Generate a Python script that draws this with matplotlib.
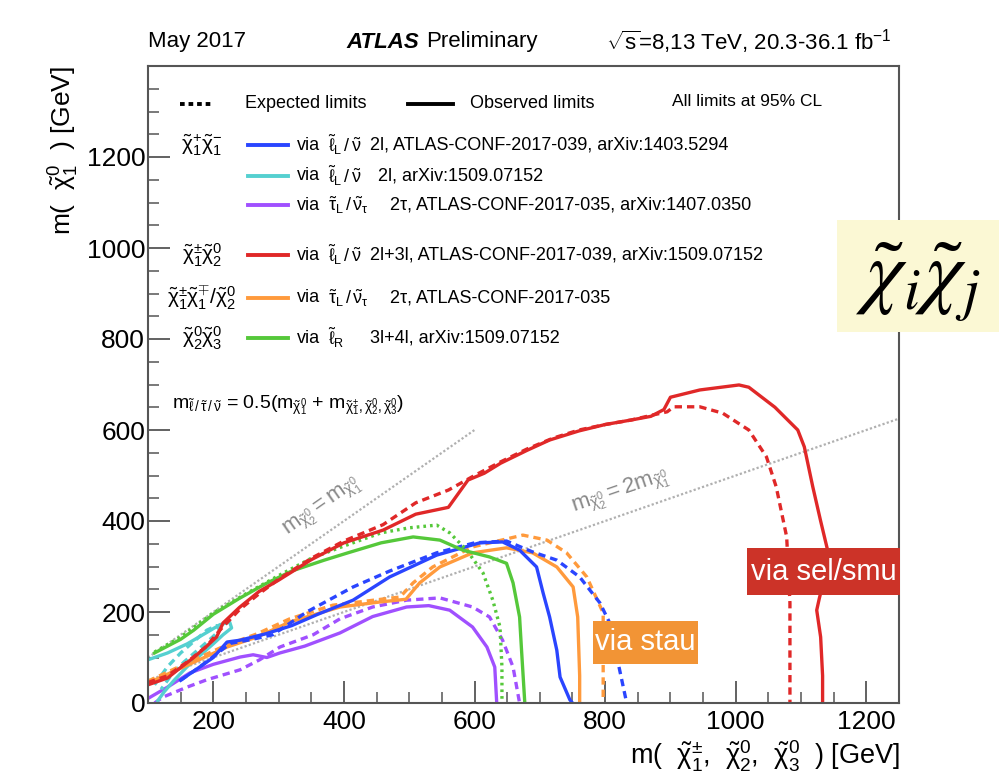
import numpy as np
import matplotlib
matplotlib.use('Agg')
import matplotlib.pyplot as plt
from matplotlib.lines import Line2D
from matplotlib.patches import Rectangle

plt.rcParams['font.family'] = ['Liberation Sans', 'DejaVu Sans']
plt.rcParams['mathtext.fontset'] = 'custom'
plt.rcParams['mathtext.rm'] = 'Liberation Sans'
plt.rcParams['mathtext.it'] = 'Liberation Sans'
plt.rcParams['mathtext.sf'] = 'Liberation Sans'

# ---- dados (GeV) ----
red_obs_x = [100, 130, 150, 170, 190, 205, 215, 240, 270, 300, 350, 400, 460, 510, 560, 590, 615, 640, 680, 715,
             760, 800, 840, 870, 890, 900, 945, 1005, 1020, 1060, 1095, 1105, 1118, 1130, 1140, 1135, 1128, 1124,
             1130, 1133, 1133]
red_obs_y = [40, 55, 78, 100, 125, 145, 176, 210, 245, 270, 315, 352, 380, 415, 430, 490, 505, 527, 555, 578,
             598, 612, 622, 630, 645, 672, 688, 699, 694, 650, 600, 563, 475, 400, 340, 270, 230, 204,
             145, 60, 0]
red_exp_x = [100, 130, 160, 190, 210, 240, 270, 300, 350, 400, 460, 510, 560, 600, 640, 680, 720, 760, 800, 840,
             870, 895, 905, 945, 980, 1020, 1047, 1062, 1078, 1083, 1083]
red_exp_y = [45, 60, 90, 125, 160, 205, 240, 272, 318, 356, 392, 440, 468, 500, 530, 558, 582, 600, 612, 622,
             632, 640, 651, 651, 637, 600, 541, 475, 365, 220, 0]

green_obs_x = [110, 150, 170, 200, 240, 280, 320, 370, 406, 457, 506, 547, 582, 623, 649, 659, 669, 672, 677]
green_obs_y = [110, 140, 160, 195, 230, 262, 290, 314, 330, 352, 365, 358, 336, 321, 307, 264, 189, 116, 0]
green_exp_x = [110, 150, 200, 250, 300, 350, 400, 457, 500, 542, 562, 588, 613, 628, 639, 642, 642]
green_exp_y = [112, 145, 198, 240, 280, 318, 345, 374, 385, 391, 374, 336, 286, 226, 167, 79, 0]

blue_obs_x = [150, 170, 200, 221, 241, 280, 320, 360, 414, 470, 542, 608, 643, 669, 695, 705, 715, 726, 731, 746, 750]
blue_obs_y = [50, 70, 100, 134, 138, 152, 170, 195, 226, 277, 325, 352, 354, 336, 299, 242, 189, 116, 57, 7, 0]
blue_exp_x = [150, 180, 226, 260, 291, 343, 414, 470, 542, 600, 649, 689, 726, 761, 792, 807, 818, 833]
blue_exp_y = [50, 80, 131, 140, 150, 200, 255, 290, 330, 352, 356, 332, 314, 277, 220, 176, 101, 0]

orange_obs_x = [100, 154, 221, 267, 317, 394, 455, 495, 516, 547, 597, 649, 689, 726, 751, 758, 761, 761]
orange_obs_y = [44, 79, 123, 145, 178, 211, 222, 228, 264, 299, 330, 341, 330, 299, 255, 189, 60, 0]
orange_exp_x = [100, 154, 221, 267, 317, 383, 440, 486, 506, 536, 597, 674, 711, 741, 772, 797, 797]
orange_exp_y = [48, 84, 128, 152, 185, 215, 225, 233, 264, 299, 343, 369, 358, 330, 277, 198, 0]

purple_obs_x = [100, 130, 164, 200, 241, 261, 282, 302, 340, 394, 444, 496, 530, 562, 597, 619, 631, 634]
purple_obs_y = [10, 35, 66, 85, 101, 106, 100, 110, 125, 154, 190, 211, 214, 204, 167, 123, 79, 0]
purple_exp_x = [110, 123, 160, 190, 241, 271, 302, 353, 394, 444, 496, 547, 597, 623, 643, 659, 669]
purple_exp_y = [0, 13, 35, 51, 73, 95, 123, 150, 185, 211, 226, 231, 211, 189, 138, 79, 0]

cyan_obs_x = [100, 130, 160, 190, 210, 225, 228, 215, 200, 180, 160, 140, 125, 115]
cyan_obs_y = [95, 110, 130, 155, 172, 178, 165, 150, 130, 105, 80, 50, 25, 5]
cyan_exp_x = [110, 130, 150, 170, 190, 205, 210, 195, 175, 155, 135, 120]
cyan_exp_y = [40, 80, 110, 135, 160, 170, 160, 140, 115, 90, 60, 30]

# cores
azul = '#2a45ff'
ciano = '#55d0d0'
roxo = '#a050ff'
vermelho = '#e02828'
laranja = '#ff9a3c'
verde = '#55c83a'
cinza = '#555555'

W, H = 999, 779
def fx(px):
    return px / W
def fy(py):
    return 1 - py / H

fig = plt.figure(figsize=(W / 100, H / 100), dpi=100)
ax = fig.add_axes([fx(148), fy(703), 751 / W, 637 / H])

# linhas cinzas
xa = np.array([100, 600])
ax.plot(xa, xa, color='#b0b0b0', lw=1.6, ls=(0, (1, 1)), zorder=1)
xb = np.array([100, 1250])
ax.plot(xb, xb / 2, color='#b0b0b0', lw=1.6, ls=(0, (1, 1)), zorder=1)
ax.text(368, 428, r'$m_{\tilde{\chi}_2^0} = m_{\tilde{\chi}_1^0}$', rotation=35, color='#888888',
        fontsize=16, ha='center', va='center')
ax.text(823, 464, r'$m_{\tilde{\chi}_2^0} = 2m_{\tilde{\chi}_1^0}$', rotation=19, color='#888888',
        fontsize=16, ha='center', va='center')

lw = 2.4
tracejado = (0, (2.2, 1.5))
pontilhado = (0, (0.8, 1.2))
curvas = [
    (purple_exp_x, purple_exp_y, roxo, tracejado),
    (purple_obs_x, purple_obs_y, roxo, '-'),
    (cyan_exp_x, cyan_exp_y, ciano, tracejado),
    (cyan_obs_x, cyan_obs_y, ciano, '-'),
    (orange_exp_x, orange_exp_y, laranja, tracejado),
    (orange_obs_x, orange_obs_y, laranja, '-'),
    (blue_exp_x, blue_exp_y, azul, tracejado),
    (blue_obs_x, blue_obs_y, azul, '-'),
    (green_exp_x, green_exp_y, verde, pontilhado),
    (green_obs_x, green_obs_y, verde, '-'),
    (red_exp_x, red_exp_y, vermelho, tracejado),
    (red_obs_x, red_obs_y, vermelho, '-'),
]
for cx, cy, cor, estilo in curvas:
    ax.plot(cx, cy, color=cor, lw=lw, ls=estilo, solid_joinstyle='round', zorder=2)

ax.set_xlim(100, 1250)
ax.set_ylim(0, 1400)
ax.set_xticks([200, 400, 600, 800, 1000, 1200])
ax.set_yticks([0, 200, 400, 600, 800, 1000, 1200])
ax.set_xticks(np.arange(100, 1250, 50), minor=True)
ax.set_yticks(np.arange(0, 1400, 50), minor=True)
ax.tick_params(which='major', direction='in', length=16, width=1.3, color=cinza, labelsize=19,
               top=False, right=False)
ax.tick_params(which='minor', direction='in', length=8, width=1.1, color=cinza, top=False, right=False)
ax.tick_params(axis='x', pad=5)
ax.tick_params(axis='y', pad=2)
for s in ax.spines.values():
    s.set_color(cinza)
    s.set_linewidth(1.5)

# rótulos dos eixos
fig.text(fx(900), fy(756), r'm(  $\tilde{\chi}_1^{\pm}$,  $\tilde{\chi}_2^0$,  $\tilde{\chi}_3^0$  ) [GeV]',
         fontsize=19.5, ha='right', va='center')
fig.text(fx(64), fy(66), r'm(  $\tilde{\chi}_1^0$  ) [GeV]', fontsize=19, rotation=90, ha='center', va='top')

# cabeçalho
fig.text(fx(148), fy(42), 'May 2017', fontsize=16, ha='left', va='center')
fig.text(fx(346), fy(42), 'ATLAS', fontsize=16, fontweight='bold', fontstyle='italic', ha='left', va='center')
fig.text(fx(426), fy(42), 'Preliminary', fontsize=16, ha='left', va='center')
fig.text(fx(892), fy(42), r'$\sqrt{s}$=8,13 TeV, 20.3-36.1 fb$^{-1}$', fontsize=16, ha='right', va='center')

# legenda
def amostra(y, cor, estilo='-', x0=248, x1=288):
    fig.add_artist(Line2D([fx(x0), fx(x1)], [fy(y), fy(y)], color=cor, lw=2.8, ls=estilo))

fs = 13
amostra(104, 'black', (0, (1.2, 1.0)), 180, 212)
fig.text(fx(245), fy(104), 'Expected limits', fontsize=fs, va='center')
amostra(104, 'black', '-', 408, 453)
fig.text(fx(470), fy(104), 'Observed limits', fontsize=fs, va='center')
fig.text(fx(672), fy(102), 'All limits at 95% CL', fontsize=12.5, va='center')

linhas = [
    (145, r'$\tilde{\chi}_1^{+}\tilde{\chi}_1^{-}$', azul, r'$\tilde{\ell}_L\,/\,\tilde{\nu}$', 370,
     '2l, ATLAS-CONF-2017-039, arXiv:1403.5294'),
    (176, '', ciano, r'$\tilde{\ell}_L\,/\,\tilde{\nu}$', 378, '2l, arXiv:1509.07152'),
    (205, '', roxo, r'$\tilde{\tau}_L\,/\,\tilde{\nu}_\tau$', 390,
     '2τ, ATLAS-CONF-2017-035, arXiv:1407.0350'),
    (255, r'$\tilde{\chi}_1^{\pm}\tilde{\chi}_2^{0}$', vermelho, r'$\tilde{\ell}_L\,/\,\tilde{\nu}$', 370,
     '2l+3l, ATLAS-CONF-2017-039, arXiv:1509.07152'),
    (298, r'$\tilde{\chi}_1^{\pm}\tilde{\chi}_1^{\mp}/\tilde{\chi}_2^{0}$', laranja,
     r'$\tilde{\tau}_L\,/\,\tilde{\nu}_\tau$', 390, '2τ, ATLAS-CONF-2017-035'),
    (338, r'$\tilde{\chi}_2^{0}\tilde{\chi}_3^{0}$', verde, r'$\tilde{\ell}_R$', 370, '3l+4l, arXiv:1509.07152'),
]
for y, rot, cor, sim, xd, desc in linhas:
    if rot:
        fig.text(fx(202), fy(y), rot, fontsize=15, ha='center', va='center')
    amostra(y, cor)
    fig.text(fx(297), fy(y), 'via', fontsize=fs, va='center')
    fig.text(fx(328), fy(y), sim, fontsize=fs, va='center')
    fig.text(fx(xd), fy(y), desc, fontsize=fs, va='center')

fig.text(fx(172), fy(405),
         r'$\mathregular{m}_{\tilde{\ell}\,/\,\tilde{\tau}\,/\,\tilde{\nu}}$ = 0.5(m$_{\tilde{\chi}_1^0}$ + m$_{\tilde{\chi}_1^{\pm},\tilde{\chi}_2^0,\tilde{\chi}_3^0}$)',
         fontsize=14, va='center')

# caixas coloridas
def caixa(x0, y0, x1, y1, cor, texto, tam, cor_txt='white', cy=None, **kw):
    fig.add_artist(Rectangle((fx(x0), fy(y1)), (x1 - x0) / W, (y1 - y0) / H, transform=fig.transFigure,
                             facecolor=cor, edgecolor='none', zorder=5))
    if cy is None:
        cy = (y0 + y1) / 2
    fig.text(fx((x0 + x1) / 2), fy(cy), texto, fontsize=tam, color=cor_txt,
             ha='center', va='center', zorder=6, **kw)

caixa(747, 548, 900, 595, '#cc3328', 'via sel/smu', 21)
caixa(593, 621, 698, 664, '#f29435', 'via stau', 21)
caixa(837, 220, 999, 332, '#fbf8d4', r'$\tilde{\chi}_i\tilde{\chi}_j$', 60, cor_txt='black', cy=282,
      math_fontfamily='stix')

fig.savefig('out.png', dpi=100)
